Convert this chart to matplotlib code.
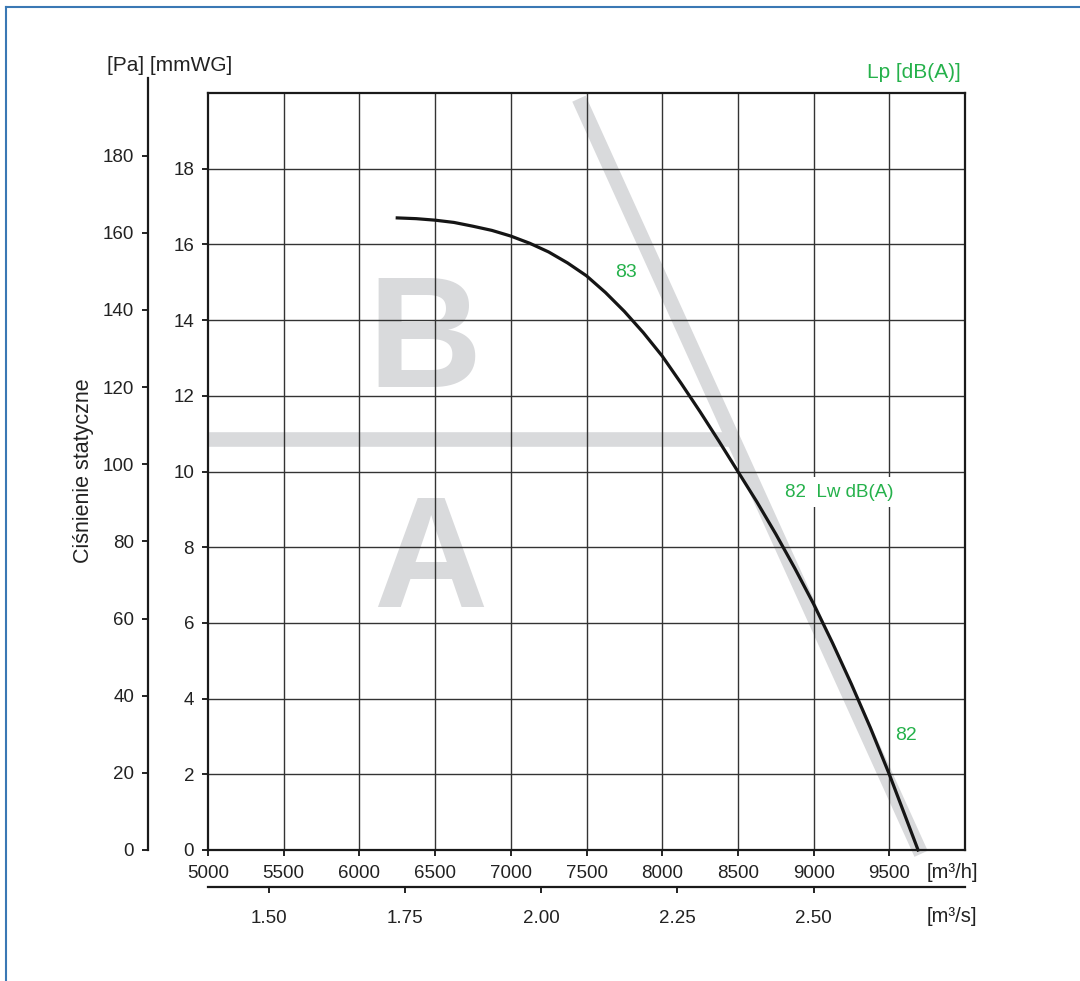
import matplotlib
matplotlib.use("Agg")
import matplotlib.pyplot as plt
from matplotlib.lines import Line2D

FONT = ['Liberation Sans', 'DejaVu Sans']
GREEN = '#25b14b'
BAND = '#d9dadc'
INK = '#222222'

# fan curve, flow [m3/h] vs static pressure [mmWG]
flow = [6250, 6375, 6500, 6625, 6750, 6875, 7000, 7125, 7250, 7375, 7500, 7625, 7750, 7875,
        8000, 8125, 8250, 8375, 8500, 8625, 8750, 8875, 9000, 9125, 9250, 9375, 9500, 9600, 9690]
pressure = [16.70, 16.68, 16.64, 16.58, 16.48, 16.37, 16.22, 16.03, 15.80, 15.51, 15.17, 14.73, 14.23, 13.67,
            13.05, 12.33, 11.58, 10.80, 10.00, 9.20, 8.35, 7.45, 6.50, 5.47, 4.38, 3.23, 2.00, 0.95, 0.0]

# A/B zone boundary bands
zone_h_x = [5000, 8450]
zone_h_y = [10.87, 10.87]
zone_d_x = [7450, 9710]
zone_d_y = [19.85, -0.1]

xticks_h = [5000, 5500, 6000, 6500, 7000, 7500, 8000, 8500, 9000, 9500]
yticks_mm = [0, 2, 4, 6, 8, 10, 12, 14, 16, 18]
yticks_pa = [0, 20, 40, 60, 80, 100, 120, 140, 160, 180]
xticks_s = [1.50, 1.75, 2.00, 2.25, 2.50]

# sound labels: (text, x, y)
sound_labels = [("83", 7761, 15.27), ("82", 9610, 3.02)]

TICK_FS = 13.5

W, H = 1080, 981
fig = plt.figure(figsize=(W / 100, H / 100), dpi=100)
rect = [208 / W, 1 - 850 / H, 757 / W, 757 / H]
ax = fig.add_axes(rect)
ax.set_xlim(5000, 10000)
ax.set_ylim(0, 20)

ax.set_xticks(xticks_h)
ax.set_xticklabels([str(v) for v in xticks_h])
ax.set_yticks(yticks_mm)
ax.set_yticklabels([str(v) for v in yticks_mm])
ax.tick_params(direction='out', length=4.5, width=1.4, color=INK, labelsize=TICK_FS)
ax.tick_params(axis='x', pad=6)
ax.tick_params(axis='y', pad=5.5)
for lab in ax.get_xticklabels() + ax.get_yticklabels():
    lab.set_family(FONT)
    lab.set_color(INK)

# grid, including the line at 10000
for xv in xticks_h[1:]:
    ax.axvline(xv, color='#333333', lw=1.0, zorder=2)
for yv in yticks_mm[1:]:
    ax.axhline(yv, color='#333333', lw=1.0, zorder=2)
for sp in ax.spines.values():
    sp.set_linewidth(1.6)
    sp.set_color('#1a1a1a')
    sp.set_zorder(5)

# zone letters
ax.text(6433, 12.23, 'B', ha='center', va='baseline', fontsize=114, fontweight='bold',
        family=FONT, color=BAND, zorder=0)
ax.text(6466, 6.43, 'A', ha='center', va='baseline', fontsize=114, fontweight='bold',
        family=FONT, color=BAND, zorder=0)

# zone bands
ax.plot(zone_h_x, zone_h_y, color=BAND, lw=10.5, solid_capstyle='butt', zorder=1)
ax.plot(zone_d_x, zone_d_y, color=BAND, lw=10.5, solid_capstyle='butt', zorder=1, clip_on=False)

# fan curve
ax.plot(flow, pressure, color='#151515', lw=2.3, zorder=4, clip_on=False,
        solid_joinstyle='round')

for txt, xv, yv in sound_labels:
    ax.text(xv, yv, txt, ha='center', va='center', fontsize=14, family=FONT, color=GREEN, zorder=6)
ax.text(8811, 9.45, '82  Lw dB(A)', ha='left', va='center', fontsize=13.5, family=FONT, color=GREEN,
        zorder=6, bbox=dict(boxstyle='square,pad=0.35', fc='white', ec='none'))

# Pa scale on its own spine
axp = fig.add_axes(rect, label='pa')
axp.patch.set_visible(False)
axp.set_ylim(0, 20 * 9.81)
axp.set_xticks([])
for k in ['top', 'right', 'bottom']:
    axp.spines[k].set_visible(False)
axp.spines['left'].set_position(('outward', 60 * 0.72))
axp.spines['left'].set_bounds(0, 200)
axp.spines['left'].set_linewidth(1.6)
axp.spines['left'].set_color('#1a1a1a')
axp.set_yticks(yticks_pa)
axp.set_yticklabels([str(v) for v in yticks_pa])
axp.tick_params(direction='out', length=4.5, width=1.4, color=INK, pad=5.5, labelsize=TICK_FS)
for lab in axp.get_yticklabels():
    lab.set_family(FONT)
    lab.set_color(INK)

# m3/s scale under the m3/h scale
secax = ax.secondary_xaxis(-37 / 757, functions=(lambda q: q / 3600.0, lambda q: q * 3600.0))
secax.set_xticks(xticks_s)
secax.set_xticklabels(['%.2f' % v for v in xticks_s])
secax.spines['bottom'].set_linewidth(1.6)
secax.spines['bottom'].set_color('#1a1a1a')
secax.tick_params(direction='out', length=4.5, width=1.4, color=INK, pad=12, labelsize=TICK_FS)
for lab in secax.get_xticklabels():
    lab.set_family(FONT)
    lab.set_color(INK)

# unit labels
fig.text(952 / W, 1 - 873 / H, '[m³/h]', ha='center', va='center', fontsize=14.5, family=FONT, color=INK)
fig.text(952 / W, 1 - 917 / H, '[m³/s]', ha='center', va='center', fontsize=14.5, family=FONT, color=INK)
fig.text(107 / W, 1 - 71 / H, '[Pa] [mmWG]', ha='left', va='baseline', fontsize=15, family=FONT, color=INK)
fig.text(961 / W, 1 - 78 / H, 'Lp [dB(A)]', ha='right', va='baseline', fontsize=15, family=FONT, color=GREEN)
fig.text(83 / W, 1 - 471 / H, 'Ciśnienie statyczne', ha='center', va='center', rotation=90,
         fontsize=15.5, family=FONT, color=INK)

# thin frame at top and left edge
fig.add_artist(Line2D([6 / W, 6 / W], [0, 1 - 7 / H], transform=fig.transFigure, color='#3a78b4', lw=1.5))
fig.add_artist(Line2D([6 / W, 1], [1 - 7 / H, 1 - 7 / H], transform=fig.transFigure, color='#3a78b4', lw=1.5))

fig.savefig('out.png', dpi=100, facecolor='white')
